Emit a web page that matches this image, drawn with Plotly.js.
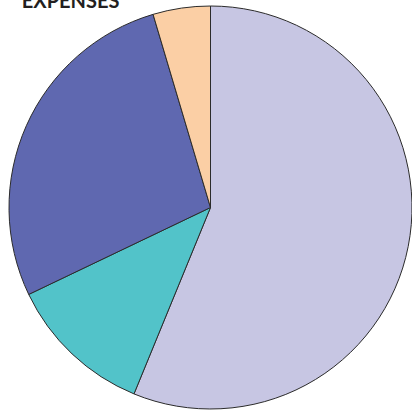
<!DOCTYPE html>
<html>
<head>
<meta charset="utf-8">
<script src="https://cdn.plot.ly/plotly-3.0.1.min.js"></script>
<style>html,body{margin:0;padding:0;background:#fff;}#chart{width:412px;height:412px;}</style>
</head>
<body>
<div id="chart"></div>
<script>
const categories = ["Category A", "Category B", "Category C", "Category D"];
const values = [56.2, 11.7, 27.5, 4.6];
const colors = ["#C7C6E3", "#52C3C9", "#5F68B0", "#FBCFA5"];
const titleText = "EXPENSES";

const data = [{
  type: "pie",
  labels: categories,
  values: values,
  sort: false,
  direction: "clockwise",
  rotation: 0,
  textinfo: "none",
  hoverinfo: "label+percent",
  marker: { colors: colors, line: { color: "#2b2b2b", width: 1 } },
  domain: { x: [0, 1], y: [0, 1] }
}];

const layout = {
  width: 412,
  height: 412,
  margin: { l: 9, r: 0, t: 6, b: 3, pad: 0 },
  showlegend: false,
  paper_bgcolor: "#ffffff",
  title: {
    text: "<b>" + titleText + "</b>",
    font: { family: "Lato, sans-serif", size: 20, color: "#231F20" },
    xref: "container", yref: "container",
    x: 0.053, xanchor: "left",
    y: 0.98, yanchor: "bottom"
  }
};

Plotly.newPlot("chart", data, layout, { staticPlot: true });
</script>
</body>
</html>
